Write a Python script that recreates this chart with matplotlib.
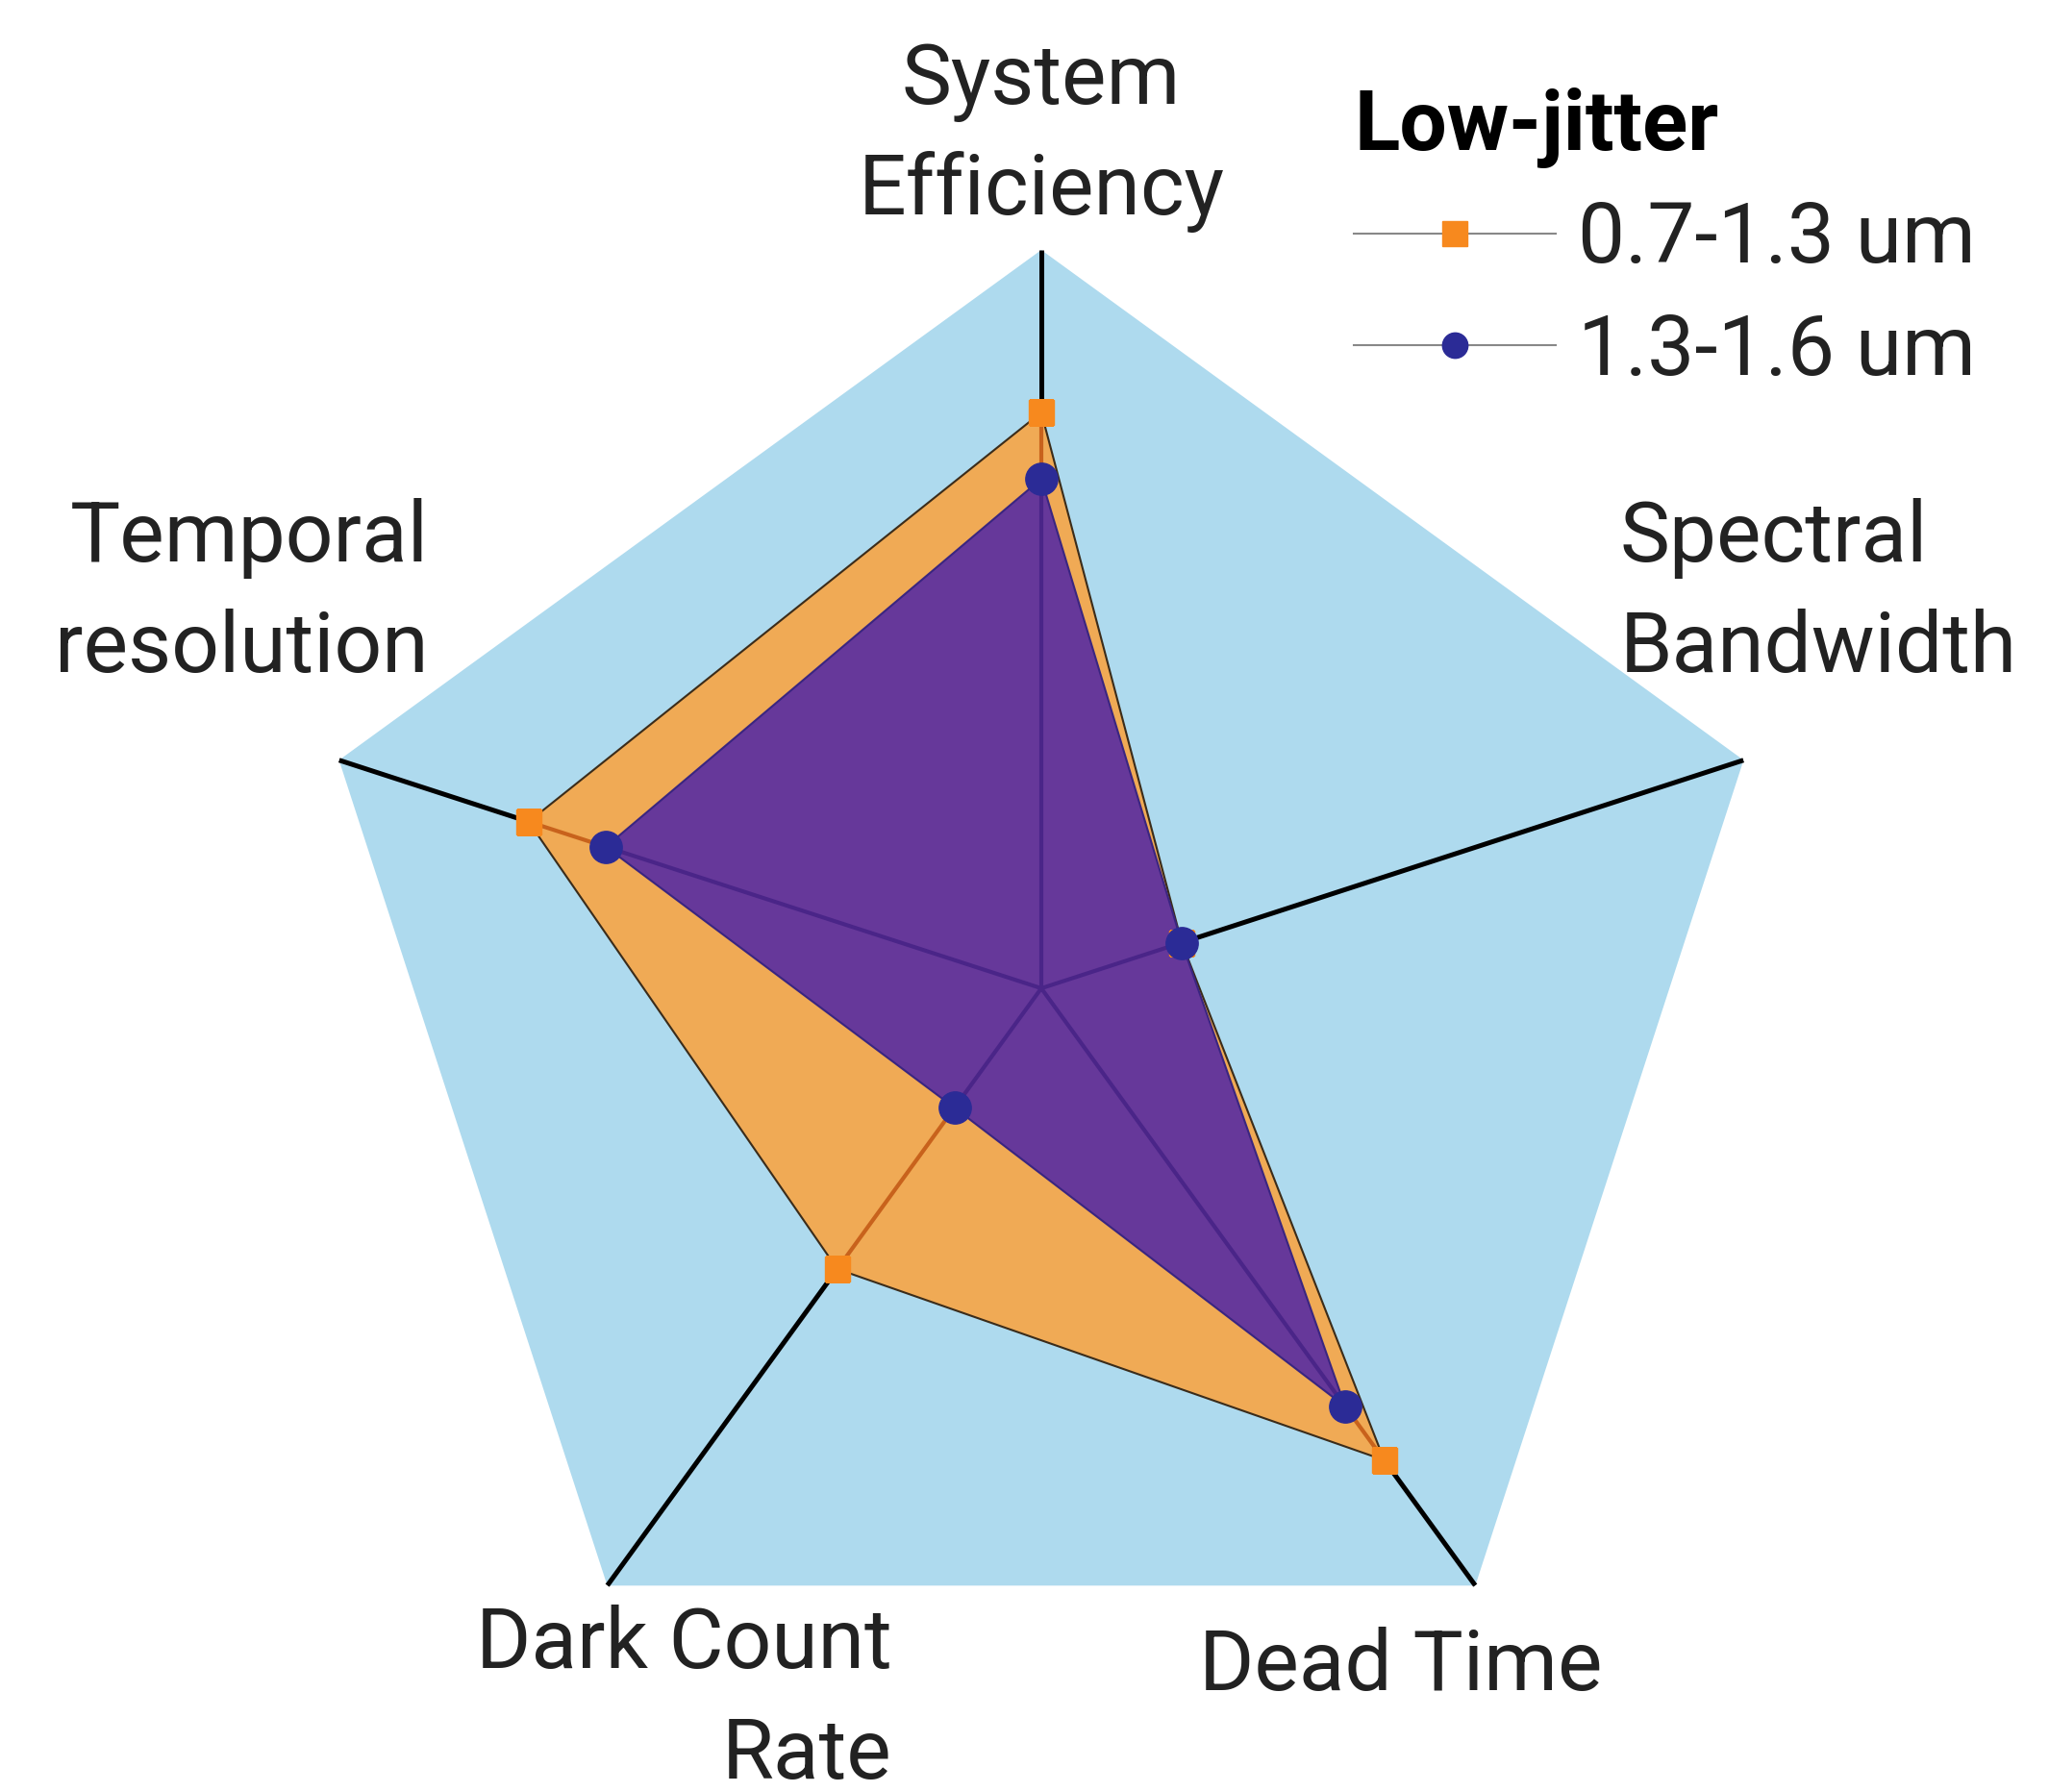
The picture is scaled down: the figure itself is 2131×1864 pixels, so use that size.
import numpy as np
import matplotlib
matplotlib.use('Agg')
import matplotlib.pyplot as plt

plt.rcParams['font.family'] = ['Roboto', 'DejaVu Sans']

# ------------------------------------------------ dados
categorias = ['System Efficiency', 'Spectral Bandwidth', 'Dead Time', 'Dark Count Rate', 'Temporal resolution']
serie_laranja = [0.78, 0.20, 0.79, 0.47, 0.73]   # 0.7-1.3 um
serie_roxa = [0.69, 0.20, 0.70, 0.20, 0.62]      # 1.3-1.6 um
nomes_series = ['0.7-1.3 um', '1.3-1.6 um']
titulo_legenda = 'Low-jitter'

# rotulos quebrados em linhas: (linhas, x px, baseline primeira linha px, alinhamento)
rotulos = [
    (['System', 'Efficiency'], 1083, 108, 'center'),
    (['Spectral', 'Bandwidth'], 1685, 584, 'left'),
    (['Dead Time'], 1247, 1758, 'left'),
    (['Dark Count', 'Rate'], 928, 1735, 'right'),
    (['Temporal', 'resolution'], 446, 584, 'right'),
]

W, H = 2131, 1864
fig = plt.figure(figsize=(W / 100, H / 100), dpi=100)
fig.set_facecolor('white')

ax = fig.add_axes([0.1478, 0.0365, 0.7208, 0.8240], projection='polar')
ax.set_theta_offset(np.pi / 2)
ax.set_theta_direction(-1)
ax.set_ylim(0, 1)
ax.grid(False)
ax.spines['polar'].set_visible(False)
ax.set_xticks([])
ax.set_yticks([])
ax.set_facecolor('none')

n = len(categorias)
angulos = np.linspace(0, 2 * np.pi, n, endpoint=False)
ang_fechado = np.append(angulos, angulos[0])

# fundo pentagonal
ax.fill(ang_fechado, np.ones(n + 1), color='#AEDAEE', zorder=0, lw=0)

# eixos (raios)
for a in angulos:
    ax.plot([a, a], [0, 1], color='black', lw=3.6, zorder=1, solid_capstyle='butt')

lar = np.append(serie_laranja, serie_laranja[0])
rox = np.append(serie_roxa, serie_roxa[0])

poly_lar = ax.fill(ang_fechado, lar, color='#F0AA55', zorder=2, lw=0)[0]
ax.plot(ang_fechado, lar, color='#3b2c1a', lw=1.5, zorder=3)
poly_rox = ax.fill(ang_fechado, rox, color='#66389A', zorder=4, lw=0)[0]
ax.plot(ang_fechado, rox, color='#3a2580', lw=1.5, zorder=4.5)

# raios vistos "através" dos preenchimentos
for a in angulos:
    r1, = ax.plot([a, a], [0, 1], color='#C8621C', lw=3, zorder=3.5, solid_capstyle='butt')
    r1.set_clip_path(poly_lar)
    r2, = ax.plot([a, a], [0, 1], color='#4A2588', lw=3, zorder=4.6, solid_capstyle='butt')
    r2.set_clip_path(poly_rox)

ax.plot(angulos, serie_laranja, ls='none', marker='s', ms=19, color='#F7891E',
        mec='#F7891E', zorder=6)
ax.plot(angulos, serie_roxa, ls='none', marker='o', ms=24, color='#2B2B96',
        mec='#2B2B96', zorder=7)

# rotulos das categorias
for linhas, x, y, alinh in rotulos:
    for i, txt in enumerate(linhas):
        fig.text(x / W, 1 - (y + i * 115) / H, txt, ha=alinh, va='baseline',
                 fontsize=63, color='#222222')

# legenda
h1, = ax.plot([], [], color='#888888', lw=1.5, marker='s', ms=19, mfc='#F7891E', mec='#F7891E')
h2, = ax.plot([], [], color='#888888', lw=1.5, marker='o', ms=19, mfc='#2B2B96', mec='#2B2B96')
leg = fig.legend([h1, h2], nomes_series, loc='upper left', bbox_to_anchor=(1408 / W, 1 - 90 / H),
                 frameon=False, fontsize=63, handlelength=2.4, handletextpad=0.26,
                 labelspacing=0.37, borderpad=0, borderaxespad=0, title=titulo_legenda,
                 title_fontproperties={'weight': 'bold', 'size': 63})
leg._legend_box.align = 'left'
for t in leg.get_texts():
    t.set_color('#222222')

fig.savefig('out.png', dpi=100)
